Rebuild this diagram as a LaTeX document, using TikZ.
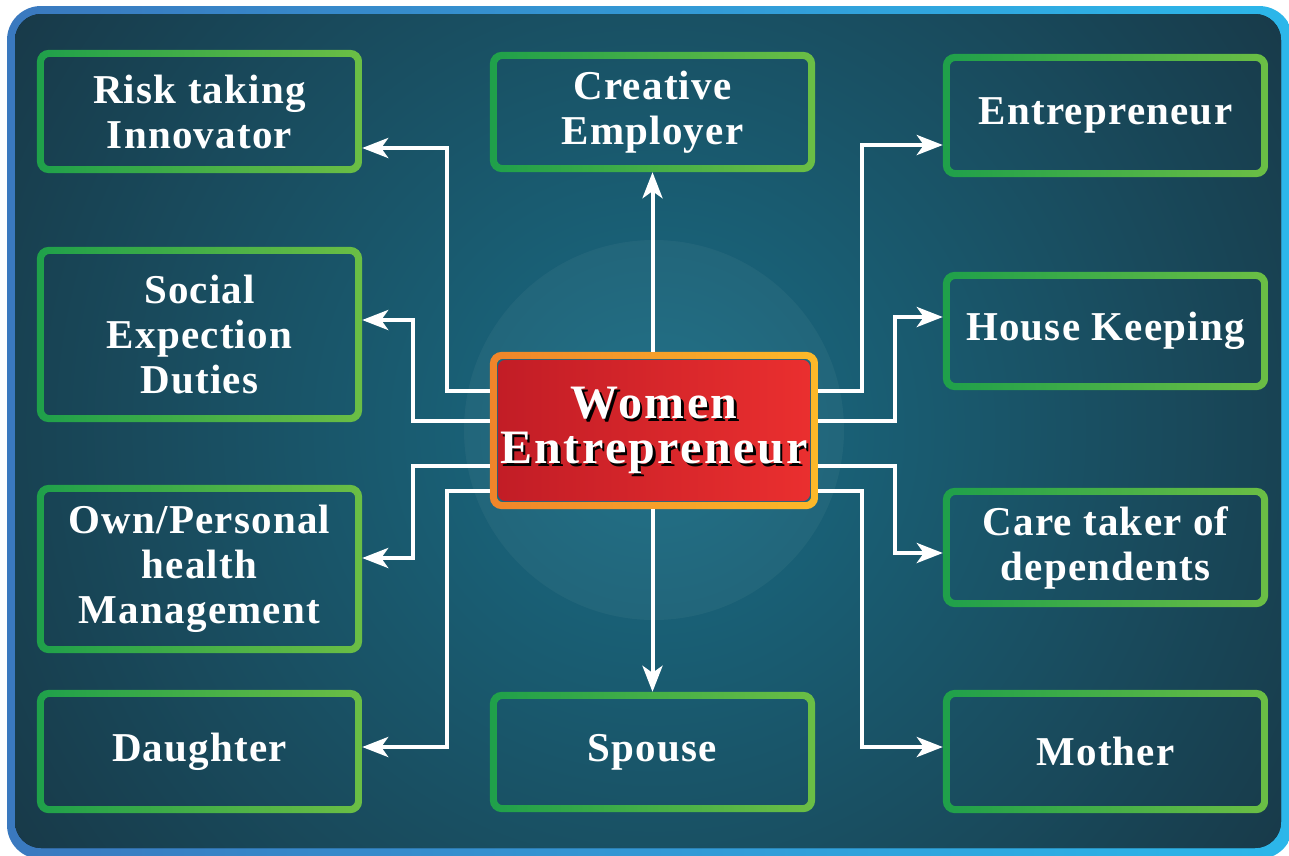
\documentclass[tikz,border=0pt]{standalone}
\usepackage{fontspec}
\usetikzlibrary{arrows.meta, calc, positioning, backgrounds}
\newfontfamily\labelfont[LetterSpace=3]{Liberation Serif}
\newfontfamily\titlefont[LetterSpace=5]{Liberation Serif}
\definecolor{framel}{HTML}{3A79BF}
\definecolor{framer}{HTML}{2CB7EA}
\definecolor{bgdark}{HTML}{17222D}
\definecolor{bgglow}{HTML}{1A6C84}
\definecolor{greenl}{HTML}{1FA04A}
\definecolor{greenr}{HTML}{6BBE45}
\definecolor{orangel}{HTML}{F0852A}
\definecolor{oranger}{HTML}{FCB929}
\definecolor{redl}{HTML}{C21D26}
\definecolor{redr}{HTML}{EA2F2F}
\tikzset{
  >={Stealth[length=26pt, width=20pt, inset=7pt]},
  every picture/.style={line join=miter},
  role/.style={minimum width=325pt, inner sep=0pt, align=center, text=white,
    font=\labelfont\bfseries\fontsize{41}{45}\selectfont},
  hub/.style={minimum width=328pt, minimum height=157pt, inner sep=0pt, align=center,
    font=\titlefont\bfseries\fontsize{48}{45}\selectfont},
  link/.style={->, white, line width=4pt},
}

\begin{document}
\begin{tikzpicture}[x=1pt, y=-1pt]
  \useasboundingbox (0,0) rectangle (1289,855);
  % ring round a node: \rim{node}{left colour}{right colour}
  \newcommand\rim[3]{%
    \shade[left color=#2, right color=#3, even odd rule, rounded corners=12pt]
      (#1.south west) rectangle (#1.north east)
      [rounded corners=6pt] ($(#1.south west)+(7pt,7pt)$) rectangle ($(#1.north east)+(-7pt,-7pt)$);}
  % roles, left column
  \node[role, minimum height=123pt] (risk) at (199.5,111.5) {Risk taking\\Innovator};
  \node[role, minimum height=175pt] (social) at (199.5,334.5) {Social\\Expection\\Duties};
  \node[role, minimum height=168pt] (health) at (199.5,569) {Own/Personal\\health\\Management};
  \node[role, minimum height=123pt] (daughter) at (199.5,751.5) {Daughter};
  % middle column
  \node[role, minimum height=120pt] (creative) at (652.5,112) {Creative\\Employer};
  \node[role, minimum height=120pt] (spouse) at (652.5,752) {Spouse};
  % right column
  \node[role, minimum height=123pt] (entre) at (1105.5,115.5) {Entrepreneur};
  \node[role, minimum height=118pt] (house) at (1105.5,331) {House Keeping};
  \node[role, minimum height=119pt] (care) at (1105.5,547.5) {Care taker of\\dependents};
  \node[role, minimum height=123pt] (mother) at (1105.5,751.5) {Mother};
  % centre, with its drop shadow
  \node[hub, text=black] (hubshade) at (656.5,433) {Women\\Entrepreneur};
  \node[hub, text=white] (women) at (654,430.5) {Women\\Entrepreneur};

  \begin{scope}[on background layer]
    \shade[left color=framel, right color=framer, rounded corners=34pt] (7,6) rectangle (1293,859);
    \begin{scope}
      \clip[rounded corners=26pt] (15,14) rectangle (1281,848);
      \fill[bgdark] (0,0) rectangle (1289,855);
      \shade[inner color=bgglow, outer color=bgdark] (654,430) circle (1120pt);
      \fill[white, opacity=0.04] (654,430) circle (190pt);
    \end{scope}
    \foreach \n in {risk, social, health, daughter, creative, spouse, entre, house, care, mother}
      {\rim{\n}{greenl}{greenr}}
    \shade[left color=redl, right color=redr, rounded corners=8pt]
      ($(women.south west)+(8pt,8pt)$) rectangle ($(women.north east)+(-8pt,-8pt)$);
    \rim{women}{orangel}{oranger}
  \end{scope}

  % connectors
  \draw[link] (women.north -| creative.south) -- (creative.south);
  \draw[link] (women.south -| spouse.north) -- (spouse.north);
  \foreach \n/\a/\b/\d in {risk/40/-36.5/85, social/10/14.5/51, health/-35/11/51, daughter/-60/4.5/85}
    \draw[link] ([yshift=\a pt]women.west) -| ([xshift=\d pt, yshift=\b pt]\n.east) -- ([yshift=\b pt]\n.east);
  \foreach \n/\a/\b/\d in {entre/40/-29.5/-81, house/10/14/-48, care/-35/-5.5/-48, mother/-60/4.5/-81}
    \draw[link] ([yshift=\a pt]women.east) -| ([xshift=\d pt, yshift=\b pt]\n.west) -- ([yshift=\b pt]\n.west);
\end{tikzpicture}
\end{document}
